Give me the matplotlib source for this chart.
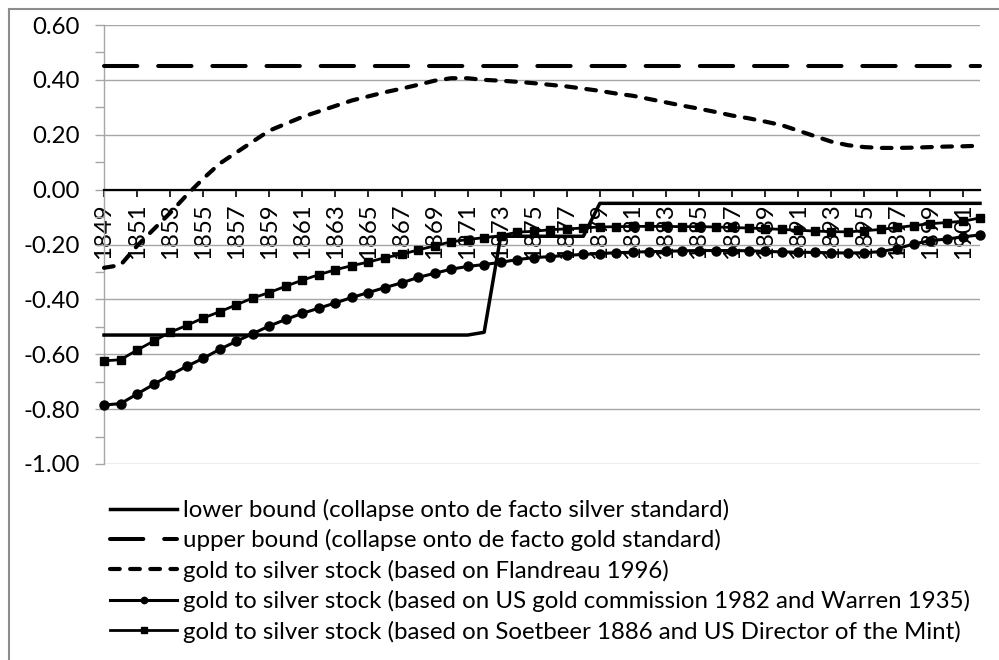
import numpy as np
import matplotlib
matplotlib.use('Agg')
import matplotlib.pyplot as plt
from matplotlib.lines import Line2D

plt.rcParams['font.family'] = ['Lato', 'DejaVu Sans']
plt.rcParams['lines.scale_dashes'] = False

# --- Data (one value per year, 1849-1902) ---
years = list(range(1849, 1903))

lower_bound = [-0.53, -0.53, -0.53, -0.53, -0.53, -0.53, -0.53, -0.53, -0.53, -0.53,
               -0.53, -0.53, -0.53, -0.53, -0.53, -0.53, -0.53, -0.53, -0.53, -0.53,
               -0.53, -0.53, -0.53, -0.52, -0.17, -0.17, -0.17, -0.17, -0.17, -0.17,
               -0.05, -0.05, -0.05, -0.05, -0.05, -0.05, -0.05, -0.05, -0.05, -0.05,
               -0.05, -0.05, -0.05, -0.05, -0.05, -0.05, -0.05, -0.05, -0.05, -0.05,
               -0.05, -0.05, -0.05, -0.05]

upper_bound = [0.45, 0.45, 0.45, 0.45, 0.45, 0.45, 0.45, 0.45, 0.45, 0.45,
               0.45, 0.45, 0.45, 0.45, 0.45, 0.45, 0.45, 0.45, 0.45, 0.45,
               0.45, 0.45, 0.45, 0.45, 0.45, 0.45, 0.45, 0.45, 0.45, 0.45,
               0.45, 0.45, 0.45, 0.45, 0.45, 0.45, 0.45, 0.45, 0.45, 0.45,
               0.45, 0.45, 0.45, 0.45, 0.45, 0.45, 0.45, 0.45, 0.45, 0.45,
               0.45, 0.45, 0.45, 0.45]

flandreau = [-0.285, -0.275, -0.205, -0.145, -0.085, -0.02, 0.04, 0.095, 0.135, 0.175,
             0.215, 0.24, 0.265, 0.285, 0.305, 0.325, 0.34, 0.355, 0.368, 0.382,
             0.397, 0.406, 0.406, 0.40, 0.397, 0.393, 0.388, 0.382, 0.376, 0.368,
             0.36, 0.35, 0.342, 0.33, 0.318, 0.306, 0.295, 0.283, 0.27, 0.26,
             0.248, 0.235, 0.215, 0.195, 0.175, 0.162, 0.155, 0.152, 0.152, 0.153,
             0.155, 0.157, 0.158, 0.16]

us_gold = [-0.785, -0.78, -0.745, -0.71, -0.676, -0.644, -0.615, -0.582, -0.553, -0.525,
           -0.497, -0.473, -0.451, -0.432, -0.413, -0.393, -0.375, -0.357, -0.34, -0.32,
           -0.305, -0.29, -0.28, -0.273, -0.265, -0.255, -0.248, -0.244, -0.24, -0.236,
           -0.233, -0.23, -0.228, -0.226, -0.225, -0.223, -0.222, -0.222, -0.222, -0.223,
           -0.225, -0.227, -0.228, -0.229, -0.23, -0.231, -0.23, -0.226, -0.215, -0.198,
           -0.186, -0.18, -0.172, -0.165]

soetbeer = [-0.624, -0.62, -0.585, -0.552, -0.52, -0.495, -0.468, -0.445, -0.42, -0.395,
            -0.375, -0.352, -0.33, -0.31, -0.292, -0.277, -0.264, -0.248, -0.236, -0.22,
            -0.205, -0.19, -0.182, -0.175, -0.168, -0.155, -0.152, -0.146, -0.143, -0.14,
            -0.136, -0.135, -0.134, -0.134, -0.134, -0.135, -0.135, -0.136, -0.138, -0.14,
            -0.142, -0.145, -0.148, -0.151, -0.153, -0.154, -0.15, -0.145, -0.138, -0.131,
            -0.124, -0.12, -0.115, -0.103]

series_labels = [
    'lower bound (collapse onto de facto silver standard)',
    'upper bound (collapse onto de facto gold standard)',
    'gold to silver stock (based on Flandreau 1996)',
    'gold to silver stock (based on US gold commission 1982 and Warren 1935)',
    'gold to silver stock (based on Soetbeer 1886 and US Director of the Mint)',
]

y_ticks = [-1.0, -0.8, -0.6, -0.4, -0.2, 0.0, 0.2, 0.4, 0.6]

# --- Figure ---
fig = plt.figure(figsize=(9.99, 6.6), dpi=100)
ax = fig.add_axes([104 / 999, 1 - 464 / 660, 876 / 999, 439 / 660])

x = np.arange(len(years))
grid_grey = '#a6a6a6'
fs = 17.3

l1, = ax.plot(x, lower_bound, color='black', lw=2.5, zorder=3, clip_on=False)
l2, = ax.plot(x, upper_bound, color='black', lw=2.9, zorder=3, clip_on=False,
              dashes=(24, 15), dash_capstyle='round')
l3, = ax.plot(x, flandreau, color='black', lw=3.0, zorder=3, clip_on=False,
              dashes=(7, 7.5), dash_capstyle='round')
l4, = ax.plot(x, us_gold, color='black', lw=2.2, marker='o', ms=6.5,
              zorder=3, clip_on=False)
l5, = ax.plot(x, soetbeer, color='black', lw=2.0, marker='s', ms=6.0,
              zorder=3, clip_on=False)

ax.set_xlim(0, len(years) - 1)
ax.set_ylim(-1.0, 0.6)

# y axis: grey line, grid at every 0.2, minor ticks in between
ax.set_yticks(y_ticks, labels=[f'{v:.2f}' for v in y_ticks])
ax.set_yticks(np.arange(-0.9, 0.6, 0.2), minor=True)
ax.yaxis.grid(True, which='major', color=grid_grey, lw=1)
ax.set_axisbelow(True)
ax.tick_params(axis='y', which='both', direction='out', length=6.5, width=1,
               color=grid_grey, pad=11, labelsize=fs, labelcolor='black')

# category axis crosses at zero, labels every second year
ax.set_xticks(x[::2], labels=[str(y) for y in years[::2]])
ax.tick_params(axis='x', direction='out', length=5, width=1.2, color='black',
               pad=5, labelsize=fs, labelrotation=90)

ax.spines['top'].set_visible(False)
ax.spines['right'].set_visible(False)
ax.spines['left'].set_color(grid_grey)
ax.spines['left'].set_linewidth(1)
ax.spines['bottom'].set_position(('data', 0))
ax.spines['bottom'].set_color('black')
ax.spines['bottom'].set_linewidth(1.6)
ax.spines['bottom'].set_zorder(2.6)

fig.legend([l1, l2, l3, l4, l5], series_labels, loc='upper left',
           bbox_to_anchor=(110 / 999, 1 - 499 / 660), frameon=False,
           fontsize=fs, handlelength=2.8, handletextpad=0.22,
           labelspacing=0.345, borderpad=0, borderaxespad=0, markerscale=0.7)

# chart area frame
fig.add_artist(Line2D([9 / 999, 9 / 999], [0, 1 - 9 / 660], transform=fig.transFigure,
                      color='#8c8c8c', lw=1.5))
fig.add_artist(Line2D([9 / 999, 1], [1 - 9 / 660, 1 - 9 / 660], transform=fig.transFigure,
                      color='#8c8c8c', lw=1.5))

fig.savefig('out.png', dpi=100, facecolor='white')
